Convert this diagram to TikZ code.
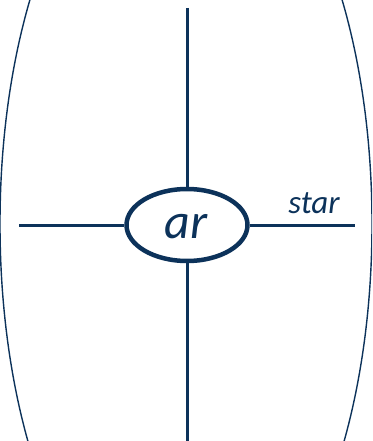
\documentclass[tikz,border=0pt]{standalone}
\usepackage{fontspec}
\setmainfont{Carlito}
\usetikzlibrary{shapes.geometric}
\definecolor{navy}{RGB}{12,50,90}
\begin{document}
\begin{tikzpicture}[x=1pt,y=-1pt,
  axis/.style={draw=navy,line width=3pt},
  rim/.style={draw=navy,line width=1.4pt}]
\useasboundingbox (0,0) rectangle (372,441);
\begin{scope}
\clip (0,0) rectangle (372,441);
\draw[rim] (186,224) ellipse [x radius=186, y radius=412];
\end{scope}
\coordinate (t) at (187,8);
\coordinate (b) at (187,441);
\coordinate (l) at (19,225);
\coordinate (r) at (355,225);
\node[draw=navy,line width=4.5pt,ellipse,minimum width=121pt,minimum height=72pt,inner sep=0pt] (c) at (187,225) {};
\node[font=\itshape\fontsize{50}{50}\selectfont,text=navy,anchor=base] at (186,238) {ar};
\draw[axis] (t) -- (c.north);
\draw[axis] (c.south) -- (b);
\draw[axis] (l) -- (c.west);
\draw[axis] (c.east) -- (r);
\node[font=\itshape\fontsize{33}{33}\selectfont,text=navy,anchor=base] (s) at (314,213) {star};
\end{tikzpicture}
\end{document}
